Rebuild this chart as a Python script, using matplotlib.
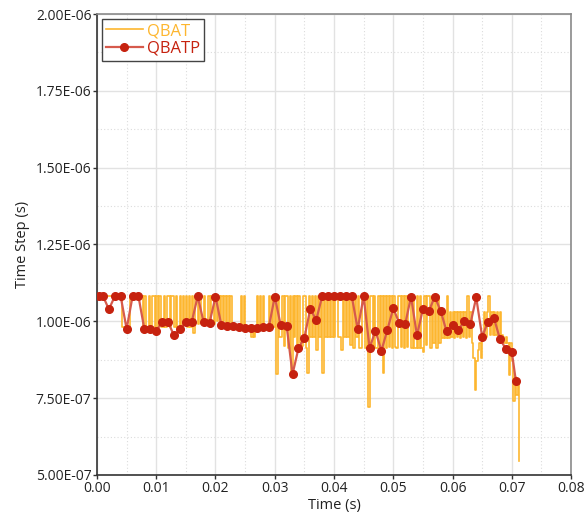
import matplotlib
matplotlib.use("Agg")
import matplotlib.pyplot as plt
import numpy as np
from matplotlib.ticker import MultipleLocator, FormatStrFormatter

plt.rcParams["font.family"] = ["Open Sans", "DejaVu Sans"]

# QBAT: time step sampled every 0.25 ms (units of 1e-6 s)
H = 1.082
qbat_dt = 0.00025
qbat = [
    H, H, H, H, H, H, H, H,
    H, H, H, H, H, H, H, H,
    H, 0.98, 0.98, 0.98, 0.98, 0.98, H, H,
    H, H, H, H, H, H, H, 0.98,
    H, 0.98, 0.98, H, 0.98, H, H, 0.98,
    H, 0.98, H, 0.98, 0.98, H, 0.98, H,
    H, 0.98, H, H, 0.98, H, 0.98, 0.98,
    H, 0.98, H, 1.00, H, 0.98, H, 0.98,
    H, 0.962, H, H, 0.99, H, 0.99, 1.00,
    H, 1.00, 0.99, H, 1.00, H, H, 0.99,
    H, 1.00, H, 0.99, H, 1.00, H, 0.99,
    H, 0.99, H, 0.99, 0.98, 0.98, 0.98, 0.98,
    0.98, H, 0.98, H, 0.98, 0.98, 0.98, 0.98,
    0.95, 0.98, 0.95, 0.98, H, 0.98, H, 0.98,
    H, 0.98, 0.98, 0.98, H, 0.98, H, 0.98,
    H, 0.83, H, 0.95, 0.95, H, 0.92, H,
    H, 0.913, H, 0.83, H, 0.95, H, 0.913,
    H, 0.93, 0.92, H, H, 0.913, 0.832, H,
    0.95, H, 0.95, H, 0.907, H, 0.95, H,
    0.832, H, 0.95, H, 0.95, H, 0.95, H,
    0.95, H, H, 0.95, 0.95, 0.907, H, 0.95,
    H, 0.95, H, 0.923, H, 0.913, H, 0.95,
    H, 0.913, 0.913, H, H, 0.913, H, 0.72,
    H, H, 0.913, H, 0.913, 0.913, H, 0.913,
    H, 0.832, H, 0.913, H, 0.917, H, 0.913,
    H, 0.917, 0.913, H, H, 0.917, H, 0.913,
    H, 0.917, H, H, 0.913, H, 0.913, 0.913,
    H, 0.913, H, 0.913, 0.901, H, 0.923, H,
    H, 0.913, H, 0.93, H, 0.913, H, 0.93,
    1.03, 0.945, 1.03, 0.945, H, 0.945, 1.03, 0.95,
    1.03, 0.945, 1.03, 0.95, 1.03, 0.945, 1.03, 0.95,
    1.03, 0.945, H, 0.95, 1.03, 0.93, 0.88, 0.776,
    0.87, 0.907, 0.93, 0.88, 0.95, 1.03, 0.95, 1.03,
    H, 0.955, 1.03, 0.955, 1.03, 0.955, 1.03, 0.955,
    1.03, 0.955, 0.95, 0.93, 0.95, 0.93, 0.825, 0.93,
    0.87, 0.74, 0.82, 0.76, 0.80, 0.547,
]

# QBATP: sampled points
qbatp_t = [0.0003] + [i * 0.001 for i in range(1, 71)] + [0.0707]
qbatp = [
    1.083, 1.083, 1.039, 1.081, 1.081, 0.975, 1.081, 1.081, 0.974, 0.974,
    0.970, 0.997, 0.997, 0.954, 0.974, 0.999, 0.999, 1.081, 0.997, 0.996,
    1.080, 0.987, 0.985, 0.984, 0.981, 0.979, 0.979, 0.979, 0.981, 0.982,
    1.080, 0.988, 0.986, 0.828, 0.912, 0.947, 1.040, 1.005, 1.081, 1.081,
    1.081, 1.081, 1.081, 1.081, 0.975, 1.081, 0.914, 0.969, 0.904, 0.972,
    1.042, 0.995, 0.990, 1.080, 0.954, 1.040, 1.033, 1.080, 1.034, 0.967,
    0.988, 0.973, 1.000, 0.990, 1.078, 0.950, 0.999, 1.010, 0.943, 0.910,
    0.901, 0.805,
]

qbat_t = np.arange(len(qbat)) * qbat_dt

fig = plt.figure(figsize=(5.85, 5.13), dpi=100)
ax = fig.add_axes([0.1658, 0.0741, 0.8103, 0.8986])

ax.plot(qbat_t, np.array(qbat) * 1e-6, color="#FDB62F", lw=1.2, drawstyle="steps-post",
        label="QBAT", zorder=2)
ax.plot(qbatp_t, np.array(qbatp) * 1e-6, color="#D65A4C", lw=1.6, marker="o",
        markersize=5.5, markerfacecolor="#C6220F", markeredgecolor="#C6220F",
        label="QBATP", zorder=3)

ax.set_xlim(0, 0.08)
ax.set_ylim(5e-7, 2e-6)
ax.xaxis.set_major_locator(MultipleLocator(0.01))
ax.xaxis.set_minor_locator(MultipleLocator(0.005))
ax.yaxis.set_major_locator(MultipleLocator(0.25e-6))
ax.yaxis.set_minor_locator(MultipleLocator(0.125e-6))
ax.xaxis.set_major_formatter(FormatStrFormatter("%.2f"))
ax.yaxis.set_major_formatter(FormatStrFormatter("%.2E"))

ax.grid(which="major", color="#e2e2e2", lw=1, ls="-")
ax.grid(which="minor", color="#dcdcdc", lw=0.8, ls=(0, (1, 2)))
ax.set_axisbelow(True)
ax.tick_params(which="major", length=3, width=1, color="#333333", labelsize=10,
               labelcolor="#222222", pad=1)
ax.tick_params(which="minor", length=0)

for side in ["left", "bottom"]:
    ax.spines[side].set_color("#333333")
    ax.spines[side].set_linewidth(1.2)
for side in ["top", "right"]:
    ax.spines[side].set_color("#8a8a8a")
    ax.spines[side].set_linewidth(1.2)

ax.set_xlabel("Time (s)", fontsize=10.5, color="#222222", labelpad=2)
ax.set_ylabel("Time Step (s)", fontsize=10.5, color="#222222", labelpad=4)

leg = ax.legend(loc="upper left", fontsize=12, fancybox=False, framealpha=1,
                edgecolor="#444444", borderpad=0.25, handlelength=2.2,
                handletextpad=0.25, labelspacing=0.1, borderaxespad=0.3)
leg.get_frame().set_linewidth(1.0)
for text, col in zip(leg.get_texts(), ["#FDB62F", "#C6220F"]):
    text.set_color(col)

fig.savefig("out.png", dpi=100)
